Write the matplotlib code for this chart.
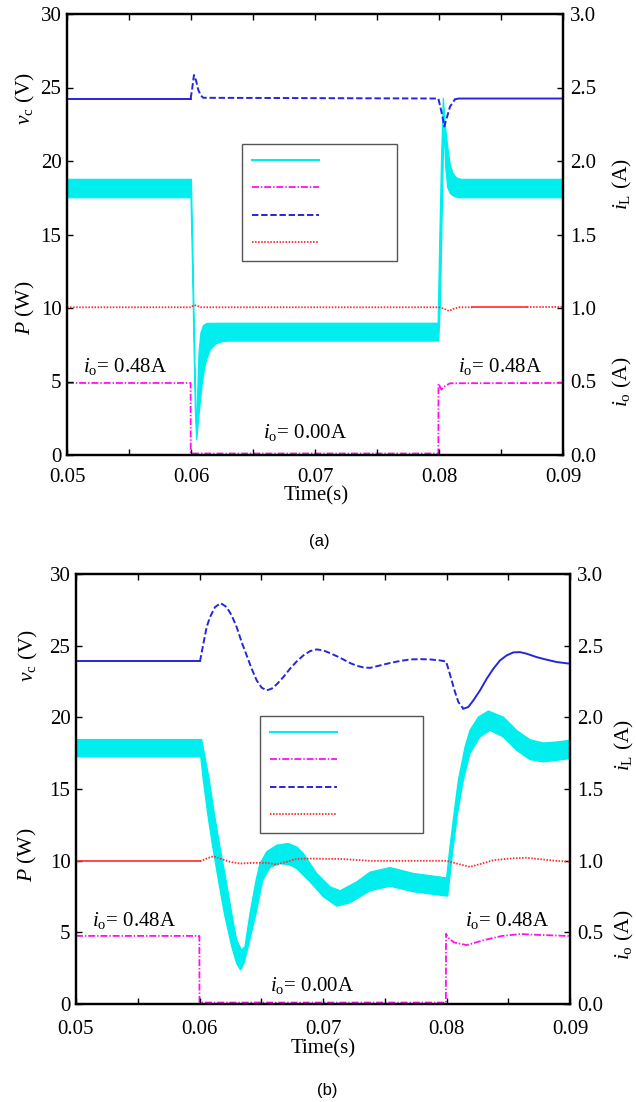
import matplotlib
matplotlib.use('Agg')
import numpy as np
import matplotlib.pyplot as plt
from matplotlib.ticker import FormatStrFormatter

plt.rcParams['font.family'] = ['Liberation Serif', 'DejaVu Serif']
plt.rcParams['mathtext.fontset'] = 'custom'
plt.rcParams['mathtext.rm'] = 'Liberation Serif'
plt.rcParams['mathtext.it'] = 'Liberation Serif:italic'
plt.rcParams['mathtext.bf'] = 'Liberation Serif:bold'
plt.rcParams['lines.scale_dashes'] = False

# ------------------------- data: panel (a) -------------------------
vc_a_t = [0.05, 0.05997, 0.06008, 0.06024, 0.0604, 0.06059, 0.0608, 0.06099,
          0.07995, 0.08021, 0.08043, 0.08065, 0.08089, 0.08129, 0.0816, 0.09]
vc_a = [24.25, 24.25, 24.83, 25.85, 25.5, 24.83, 24.45, 24.3,
        24.25, 23.3, 22.35, 23.0, 23.7, 24.2, 24.25, 24.25]

iLa_up_t = [0.05, 0.06003, 0.06015, 0.06028, 0.0604, 0.06047, 0.06055, 0.06065,
            0.0608, 0.061, 0.0613, 0.0617, 0.07993, 0.08006, 0.0802, 0.08035,
            0.0805, 0.0807, 0.0809, 0.0811, 0.0814, 0.0818, 0.09]
iLa_up = [1.875, 1.875, 1.40, 0.80, 0.30, 0.18, 0.45, 0.70,
          0.83, 0.88, 0.895, 0.896, 0.896, 1.45, 2.00, 2.43,
          2.25, 2.10, 1.98, 1.92, 1.885, 1.875, 1.875]
iLa_lo_t = [0.05, 0.06000, 0.06012, 0.06024, 0.06036, 0.06046, 0.0606, 0.06075,
            0.0609, 0.0611, 0.0613, 0.0616, 0.062, 0.0625, 0.063, 0.07998,
            0.08012, 0.08027, 0.0804, 0.08055, 0.0807, 0.0809, 0.0812, 0.0816, 0.09]
iLa_lo = [1.75, 1.75, 1.30, 0.75, 0.28, 0.10, 0.23, 0.36,
          0.48, 0.59, 0.66, 0.72, 0.755, 0.77, 0.775, 0.775,
          1.05, 1.70, 2.25, 1.95, 1.82, 1.78, 1.76, 1.75, 1.75]

P_a_t = [0.05, 0.06, 0.06025, 0.0605, 0.0608, 0.08, 0.0804, 0.0808, 0.0812,
         0.0816, 0.0827, 0.0871, 0.09]
P_a = [10.05, 10.05, 10.2, 10.15, 10.05, 10.05, 9.95, 9.8, 9.95,
       10.05, 10.05, 10.05, 10.05]

io_a_t = [0.05, 0.05997, 0.05998, 0.07995, 0.07996, 0.0802, 0.0805, 0.0809, 0.09]
io_a = [0.49, 0.49, 0.01, 0.01, 0.485, 0.445, 0.47, 0.488, 0.49]

# ------------------------- data: panel (b) -------------------------
vc_b_t = [0.05, 0.06004, 0.06031, 0.06058, 0.06085, 0.061255, 0.061714, 0.0622,
          0.062605, 0.063009, 0.063414, 0.063819, 0.064224, 0.064629, 0.065034,
          0.065439, 0.065844, 0.066248, 0.066788, 0.067328, 0.067868, 0.068408,
          0.068947, 0.069487, 0.070027, 0.070567, 0.071107, 0.071646, 0.072186,
          0.072726, 0.073266, 0.073806, 0.074615, 0.075425, 0.076235, 0.077045,
          0.077854, 0.078664, 0.079474, 0.07996, 0.080149, 0.080418, 0.080688,
          0.080958, 0.081363, 0.081767, 0.082173, 0.082713, 0.083252, 0.083792,
          0.084332, 0.084872, 0.085412, 0.085951, 0.086491, 0.087301, 0.08811,
          0.08892, 0.09]
vc_b = [23.90, 23.90, 25.13, 26.30, 26.99, 27.69, 27.97, 27.69,
        27.11, 26.30, 25.25, 24.32, 23.39, 22.58, 22.07,
        21.88, 22.00, 22.30, 22.81, 23.39, 23.90, 24.32,
        24.62, 24.74, 24.67, 24.48, 24.27, 24.04, 23.79,
        23.60, 23.48, 23.45, 23.62, 23.79, 23.93, 24.04,
        24.06, 24.04, 23.97, 23.90, 23.39, 22.58, 21.77,
        21.07, 20.60, 20.72, 21.18, 21.88, 22.69, 23.39,
        23.97, 24.32, 24.53, 24.55, 24.44, 24.20, 24.02,
        23.86, 23.74]

iLb_up_t = [0.05, 0.06018, 0.0608, 0.0612, 0.06166, 0.06215, 0.06261, 0.06301,
            0.06341, 0.06368, 0.06409, 0.06458, 0.0649, 0.06544, 0.06625, 0.06719,
            0.06787, 0.06841, 0.06949, 0.07057, 0.07138, 0.07273, 0.07381, 0.07543,
            0.07731, 0.08001, 0.08028, 0.08061, 0.08096, 0.0815, 0.0819, 0.08258,
            0.08339, 0.0846, 0.08568, 0.08676, 0.08784, 0.08892, 0.09]
iLb_up = [1.845, 1.845, 1.561, 1.329, 1.096, 0.864, 0.632, 0.446,
          0.376, 0.400, 0.632, 0.864, 0.980, 1.062, 1.108, 1.120,
          1.096, 1.050, 0.911, 0.818, 0.790, 0.852, 0.920, 0.952,
          0.911, 0.880, 1.096, 1.329, 1.561, 1.793, 1.909, 2.002,
          2.044, 2.002, 1.909, 1.844, 1.821, 1.828, 1.840]
iLb_lo_t = [0.05, 0.0601, 0.06031, 0.06066, 0.06107, 0.06153, 0.06201, 0.06261,
            0.06301, 0.06333, 0.0636, 0.06395, 0.06458, 0.06512, 0.06571, 0.06652,
            0.06733, 0.06787, 0.06895, 0.07003, 0.07111, 0.07219, 0.07381, 0.07543,
            0.07731, 0.08001, 0.0801, 0.08055, 0.0809, 0.08136, 0.0819, 0.08271,
            0.08352, 0.0846, 0.08568, 0.08676, 0.08784, 0.08892, 0.09]
iLb_lo = [1.724, 1.724, 1.561, 1.329, 1.096, 0.864, 0.632, 0.400,
          0.283, 0.237, 0.283, 0.400, 0.632, 0.864, 0.952, 0.980,
          0.969, 0.945, 0.852, 0.748, 0.683, 0.706, 0.790, 0.822,
          0.783, 0.753, 0.753, 1.096, 1.329, 1.561, 1.747, 1.863,
          1.909, 1.863, 1.770, 1.705, 1.689, 1.700, 1.712]

P_b_t = [0.05, 0.06004, 0.06058, 0.06112, 0.06166, 0.06247, 0.06328, 0.06436,
         0.06544, 0.06625, 0.06706, 0.06787, 0.06895, 0.07003, 0.07111, 0.07219,
         0.07381, 0.0765, 0.08001, 0.08082, 0.0819, 0.08271, 0.08379, 0.08514,
         0.08649, 0.08784, 0.08892, 0.09]
P_b = [9.95, 9.95, 10.15, 10.31, 10.15, 9.92, 9.80, 9.85,
       9.85, 9.73, 9.92, 10.13, 10.15, 10.13, 10.13, 10.08,
       9.99, 9.99, 9.99, 9.80, 9.57, 9.76, 10.03, 10.15,
       10.20, 10.08, 9.99, 9.92]

io_b_t = [0.05, 0.05999, 0.06, 0.07995, 0.07996, 0.0801, 0.0806, 0.08163,
          0.083, 0.0845, 0.086, 0.0875, 0.09]
io_b = [0.475, 0.475, 0.01, 0.01, 0.49, 0.465, 0.43, 0.411,
        0.445, 0.475, 0.488, 0.482, 0.474]

x_major = [0.05, 0.06, 0.07, 0.08, 0.09]
x_minor = [0.055, 0.065, 0.075, 0.085]
y_left = [0, 5, 10, 15, 20, 25, 30]
y_right = [0.0, 0.5, 1.0, 1.5, 2.0, 2.5, 3.0]

# ------------------------- styles -------------------------
C_CYAN = '#00eeee'
C_MAG = '#ff10ee'
C_BLUE = '#2626dd'
C_RED = '#ff2a2a'
DASH_BLUE = (0, (4.6, 2.0))
DOT_RED = (0, (1.1, 1.1))
DASHDOT_MAG = (0, (5.0, 1.4, 1.0, 1.4))
W = 636.0
H = 1102.0


def seg(ax, t, v, i0, i1, **kw):
    ax.plot(t[i0:i1 + 1], v[i0:i1 + 1], **kw)


def style_axes(ax, ax2, xpad):
    ax.set_xlim(0.05, 0.09)
    ax.set_ylim(0, 30)
    ax2.set_ylim(0, 3.0)
    ax.set_xticks(x_major)
    ax.set_xticks(x_minor, minor=True)
    ax.xaxis.set_major_formatter(FormatStrFormatter('%.2f'))
    ax.set_yticks(y_left)
    ax2.set_yticks(y_right)
    ax2.yaxis.set_major_formatter(FormatStrFormatter('%.1f'))
    ax.tick_params(axis='both', which='both', direction='in', top=True,
                   right=False, length=4, width=1.0, labelsize=15)
    ax.tick_params(axis='x', pad=xpad)
    ax.tick_params(axis='y', pad=4)
    ax2.tick_params(axis='y', direction='in', length=4, width=1.0,
                    labelsize=15, pad=5)
    for a in (ax, ax2):
        for s in a.spines.values():
            s.set_linewidth(1.6)
    ax.set_zorder(ax2.get_zorder() + 1)
    ax.patch.set_visible(False)


def legend(ax, handles, box):
    x0, y0, w, h = box
    leg = ax.legend(handles, ['', '', '', ''], loc='upper left',
                    bbox_to_anchor=(x0, y0, w, h), mode='expand',
                    bbox_transform=ax.transAxes, fontsize=10,
                    handlelength=4.8, borderpad=0.75, labelspacing=1.05,
                    handletextpad=0.2, fancybox=False, framealpha=1.0,
                    borderaxespad=0.0)
    leg.get_frame().set_edgecolor('#555555')
    leg.get_frame().set_linewidth(1.0)
    return leg


fig = plt.figure(figsize=(W / 100, H / 100), dpi=100)

# ------------------------- panel (a) -------------------------
axa = fig.add_axes([67 / W, 1 - 455 / H, 496 / W, 441 / H])
axa2 = axa.twinx()
style_axes(axa, axa2, 9.5)

band_t = np.r_[iLa_up_t, iLa_lo_t[::-1]]
band_v = np.r_[iLa_up, iLa_lo[::-1]]
axa2.fill(band_t, band_v, color=C_CYAN, lw=0.9, ec=C_CYAN)
axa2.plot(io_a_t, io_a, color=C_MAG, lw=1.3, ls=DASHDOT_MAG)

seg(axa, vc_a_t, vc_a, 0, 1, color=C_BLUE, lw=1.4)
seg(axa, vc_a_t, vc_a, 1, 13, color=C_BLUE, lw=1.4, ls=DASH_BLUE)
seg(axa, vc_a_t, vc_a, 13, len(vc_a) - 1, color=C_BLUE, lw=1.4)
seg(axa, P_a_t, P_a, 0, 10, color=C_RED, lw=1.3, ls=DOT_RED)
seg(axa, P_a_t, P_a, 10, 11, color=C_RED, lw=1.2)
seg(axa, P_a_t, P_a, 11, len(P_a) - 1, color=C_RED, lw=1.3, ls=DOT_RED)

h_cyan = plt.Line2D([], [], color=C_CYAN, lw=1.5)
h_mag = plt.Line2D([], [], color=C_MAG, lw=1.3, ls=DASHDOT_MAG)
h_blue = plt.Line2D([], [], color=C_BLUE, lw=1.4, ls=DASH_BLUE)
h_red = plt.Line2D([], [], color=C_RED, lw=1.3, ls=DOT_RED)
handles = [h_cyan, h_mag, h_blue, h_red]
legend(axa, handles, (0.3528, 0.4376, 0.3125, 0.2676))

axa.text(0.0513, 6.05, r'$i_\mathrm{o}$= 0.48A', fontsize=15, ha='left', va='center')
axa.text(0.08153, 6.05, r'$i_\mathrm{o}$= 0.48A', fontsize=15, ha='left', va='center')
axa.text(0.0658, 1.5, r'$i_\mathrm{o}$= 0.00A', fontsize=15, ha='left', va='center')

# ------------------------- panel (b) -------------------------
axb = fig.add_axes([76 / W, 1 - 1004 / H, 494 / W, 430 / H])
axb2 = axb.twinx()
style_axes(axb, axb2, 11.5)

band_t = np.r_[iLb_up_t, iLb_lo_t[::-1]]
band_v = np.r_[iLb_up, iLb_lo[::-1]]
axb2.fill(band_t, band_v, color=C_CYAN, lw=0.9, ec=C_CYAN)
axb2.plot(io_b_t, io_b, color=C_MAG, lw=1.3, ls=DASHDOT_MAG)

seg(axb, vc_b_t, vc_b, 0, 1, color=C_BLUE, lw=1.4)
seg(axb, vc_b_t, vc_b, 1, 44, color=C_BLUE, lw=1.4, ls=DASH_BLUE)
seg(axb, vc_b_t, vc_b, 44, len(vc_b) - 1, color=C_BLUE, lw=1.4)
seg(axb, P_b_t, P_b, 0, 1, color=C_RED, lw=1.2)
seg(axb, P_b_t, P_b, 1, len(P_b) - 1, color=C_RED, lw=1.3, ls=DOT_RED)

legend(axb, handles, (0.3725, 0.4023, 0.3299, 0.2675))

axb.text(0.0513, 5.85, r'$i_\mathrm{o}$= 0.48A', fontsize=15, ha='left', va='center')
axb.text(0.0815, 5.85, r'$i_\mathrm{o}$= 0.48A', fontsize=15, ha='left', va='center')
axb.text(0.0657, 1.32, r'$i_\mathrm{o}$= 0.00A', fontsize=15, ha='left', va='center')

# ------------------------- labels -------------------------
def ftext(x, y, s, **kw):
    fig.text(x / W, 1 - y / H, s, ha='center', va='center', **kw)

ftext(25, 98, r'$v_\mathrm{c}$ (V)', rotation=90, fontsize=15.5)
ftext(25, 308, r'$P$ (W)', rotation=90, fontsize=15.5)
ftext(622, 184, r'$i_\mathrm{L}$ (A)', rotation=90, fontsize=15.5)
ftext(622, 382, r'$i_\mathrm{o}$ (A)', rotation=90, fontsize=15.5)
ftext(316, 496, 'Time(s)', fontsize=15)
ftext(319, 541, '(a)', fontsize=12, family='Liberation Sans')

ftext(28, 655, r'$v_\mathrm{c}$ (V)', rotation=90, fontsize=15.5)
ftext(27, 855, r'$P$ (W)', rotation=90, fontsize=15.5)
ftext(624, 745, r'$i_\mathrm{L}$ (A)', rotation=90, fontsize=15.5)
ftext(624, 935, r'$i_\mathrm{o}$ (A)', rotation=90, fontsize=15.5)
ftext(323, 1049, 'Time(s)', fontsize=15)
ftext(327, 1090, '(b)', fontsize=12, family='Liberation Sans')

fig.savefig('out.png', dpi=100)
